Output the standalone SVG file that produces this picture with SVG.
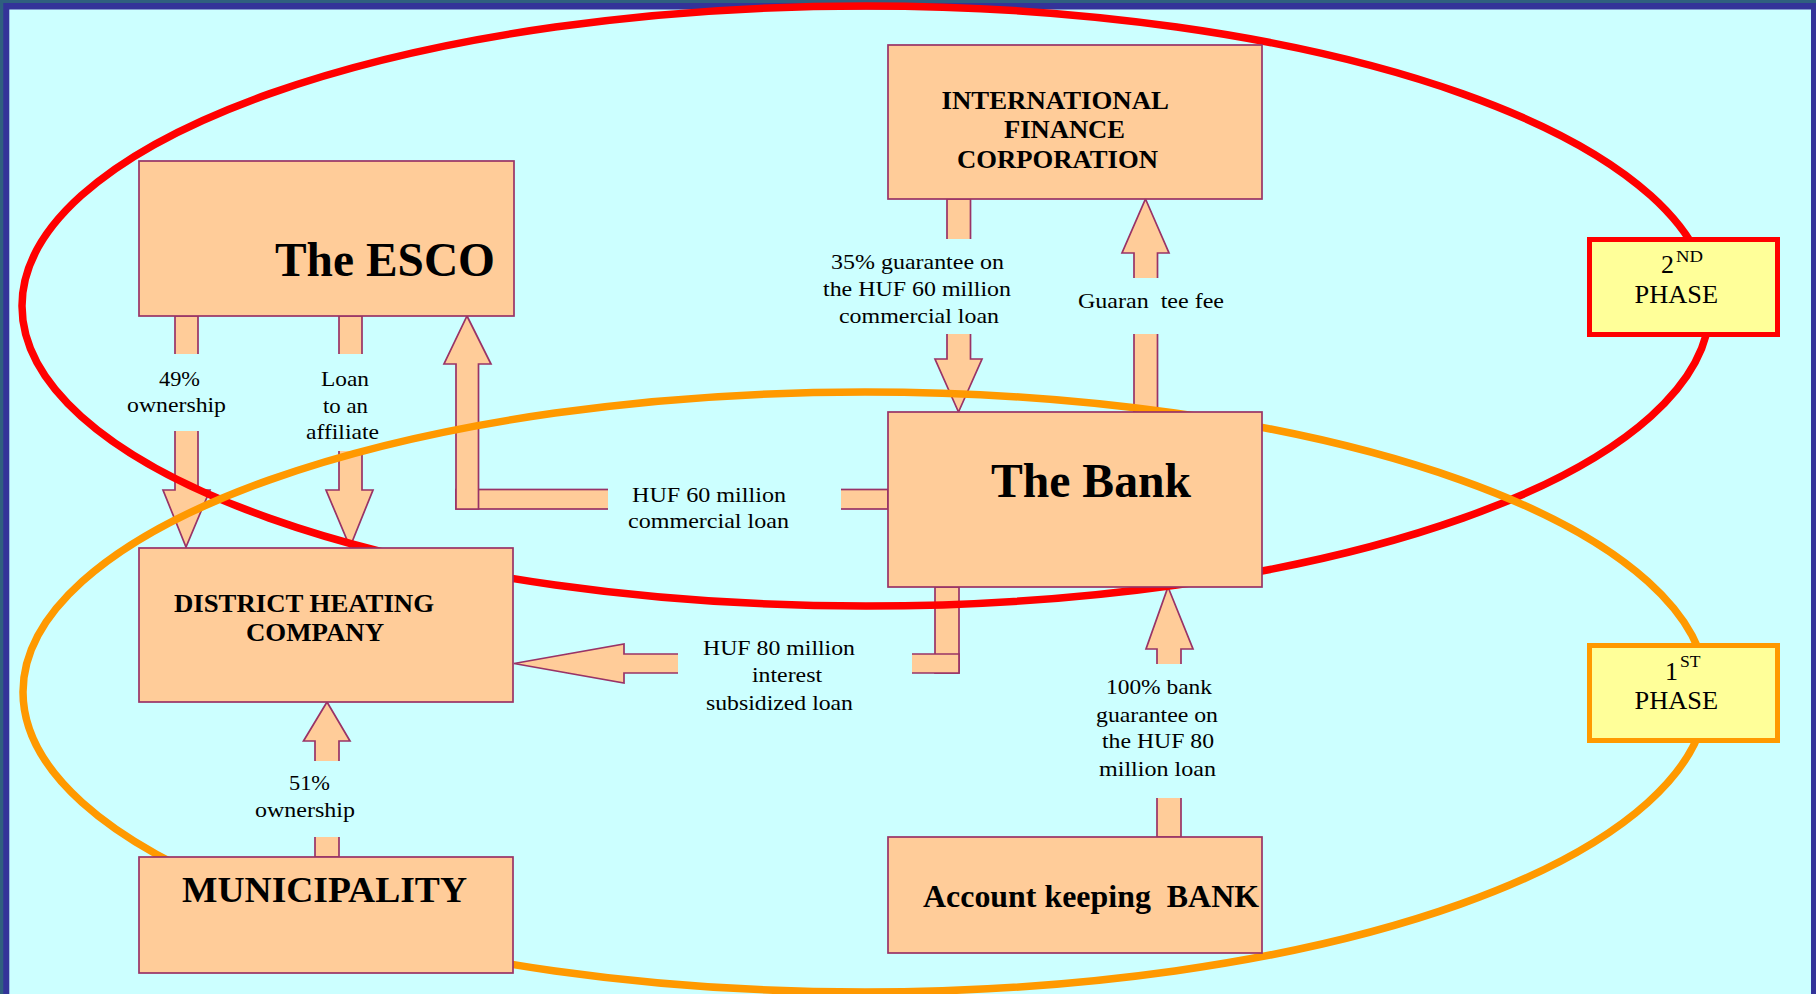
<svg xmlns="http://www.w3.org/2000/svg" width="1816" height="994" viewBox="0 0 1816 994">
<style>
.node{fill:#FFCC99;stroke:#993366;stroke-width:1.7}
.arr{fill:#FFCC99;stroke:#993366;stroke-width:1.7;stroke-linejoin:miter}
.gap{fill:#CCFFFF;stroke:none}
.lbl{font-family:"Liberation Serif","Times New Roman",serif;font-size:22px;fill:#000}
.ttl{font-family:"Liberation Serif","Times New Roman",serif;font-weight:bold;fill:#000}
.ph{font-family:"Liberation Serif","Times New Roman",serif;font-size:26px;fill:#000}
.sup{font-family:"Liberation Serif","Times New Roman",serif;font-size:17px;fill:#000}
.ring{fill:none;stroke-width:7.5}
</style>
<rect x="0" y="0" width="1816" height="994" fill="#2F5F7F"/>
<rect x="3.3" y="3" width="1812.7" height="991" fill="#333399"/>
<rect x="9.3" y="9.5" width="1801.7" height="984.5" fill="#CCFFFF"/>

<g id="connectors">
  <!-- ESCO -> DHC 49% ownership -->
  <polygon class="arr" points="175,316 198,316 198,490 210,490 186,547 163,490 175,490"/>
  <rect class="gap" x="120" y="354" width="115" height="77"/>
  <text class="lbl" x="159" y="386" textLength="41" lengthAdjust="spacingAndGlyphs">49%</text>
  <text class="lbl" x="127" y="412" textLength="99" lengthAdjust="spacingAndGlyphs">ownership</text>
  <!-- ESCO -> DHC Loan -->
  <polygon class="arr" points="339,316 362,316 362,490 373,490 350,547 326,490 339,490"/>
  <rect class="gap" x="300" y="354" width="85" height="97"/>
  <text class="lbl" x="321" y="386" textLength="48" lengthAdjust="spacingAndGlyphs">Loan</text>
  <text class="lbl" x="323" y="413" textLength="45" lengthAdjust="spacingAndGlyphs">to an</text>
  <text class="lbl" x="306" y="439" textLength="73" lengthAdjust="spacingAndGlyphs">affiliate</text>
  <!-- Bank -> ESCO HUF 60 million -->
  <rect class="arr" x="456" y="489.5" width="432" height="19.5"/>
  <polygon class="arr" points="467,316 491,364 478.5,364 478.5,509 456,509 456,364 444,364"/>
  <rect class="gap" x="608" y="480" width="233" height="58"/>
  <text class="lbl" x="632" y="502" textLength="154" lengthAdjust="spacingAndGlyphs">HUF 60 million</text>
  <text class="lbl" x="628" y="528" textLength="161" lengthAdjust="spacingAndGlyphs">commercial loan</text>
  <!-- Bank -> DHC HUF 80 million -->
  <rect class="arr" x="935" y="587" width="24" height="86"/>
  <polygon class="arr" points="514,663.5 624,644 624,654 959,654 959,673 624,673 624,683"/>
  <rect class="gap" x="678" y="632" width="234" height="88"/>
  <text class="lbl" x="703" y="655" textLength="152" lengthAdjust="spacingAndGlyphs">HUF 80 million</text>
  <text class="lbl" x="752" y="682" textLength="70" lengthAdjust="spacingAndGlyphs">interest</text>
  <text class="lbl" x="706" y="710" textLength="147" lengthAdjust="spacingAndGlyphs">subsidized loan</text>
  <!-- IFC -> Bank 35% guarantee -->
  <polygon class="arr" points="947,199 970.5,199 970.5,359 982,359 958.5,412 935,359 947,359"/>
  <rect class="gap" x="815" y="239" width="200" height="95"/>
  <text class="lbl" x="831" y="269" textLength="173" lengthAdjust="spacingAndGlyphs">35% guarantee on</text>
  <text class="lbl" x="823" y="296" textLength="188" lengthAdjust="spacingAndGlyphs">the HUF 60 million</text>
  <text class="lbl" x="839" y="323" textLength="160" lengthAdjust="spacingAndGlyphs">commercial loan</text>
  <!-- Bank -> IFC Guarantee fee -->
  <polygon class="arr" points="1145.5,199 1169,253 1157.5,253 1157.5,412 1134,412 1134,253 1122,253"/>
  <rect class="gap" x="1070" y="278" width="160" height="56"/>
  <text class="lbl" x="1078" y="308" textLength="146" lengthAdjust="spacingAndGlyphs" xml:space="preserve">Guaran  tee fee</text>
  <!-- Account keeping -> Bank 100% -->
  <polygon class="arr" points="1168,587 1193,649 1181,649 1181,837 1157,837 1157,649 1146,649"/>
  <rect class="gap" x="1090" y="664" width="135" height="134"/>
  <text class="lbl" x="1106" y="694" textLength="106" lengthAdjust="spacingAndGlyphs">100% bank</text>
  <text class="lbl" x="1096" y="722" textLength="122" lengthAdjust="spacingAndGlyphs">guarantee on</text>
  <text class="lbl" x="1102" y="748" textLength="112" lengthAdjust="spacingAndGlyphs">the HUF 80</text>
  <text class="lbl" x="1099" y="776" textLength="117" lengthAdjust="spacingAndGlyphs">million loan</text>
  <!-- Municipality -> DHC 51% -->
  <polygon class="arr" points="327,702 350,741 339,741 339,857 315,857 315,741 303.5,741"/>
  <rect class="gap" x="245" y="761" width="120" height="76"/>
  <text class="lbl" x="289" y="790" textLength="41" lengthAdjust="spacingAndGlyphs">51%</text>
  <text class="lbl" x="255" y="817" textLength="100" lengthAdjust="spacingAndGlyphs">ownership</text>
</g>

<g id="phases">
  <ellipse class="ring" cx="866" cy="306" rx="844" ry="300" stroke="#FF0000"/>
  <ellipse class="ring" cx="865" cy="692" rx="842" ry="300" stroke="#FF9900"/>
</g>

<g id="esco">
  <rect class="node" x="139" y="161" width="375" height="155"/>
  <text class="ttl" x="275" y="276" font-size="48" textLength="220" lengthAdjust="spacingAndGlyphs">The ESCO</text>
</g>
<g id="ifc">
  <rect class="node" x="888" y="45" width="374" height="154"/>
  <text class="ttl" x="941.5" y="109" font-size="26" textLength="227.5" lengthAdjust="spacingAndGlyphs">INTERNATIONAL</text>
  <text class="ttl" x="1004" y="138" font-size="26" textLength="121" lengthAdjust="spacingAndGlyphs">FINANCE</text>
  <text class="ttl" x="957" y="168" font-size="26" textLength="201" lengthAdjust="spacingAndGlyphs">CORPORATION</text>
</g>
<g id="bank">
  <rect class="node" x="888" y="412" width="374" height="175"/>
  <text class="ttl" x="991" y="497" font-size="48" textLength="200" lengthAdjust="spacingAndGlyphs">The Bank</text>
</g>
<g id="dhc">
  <rect class="node" x="139" y="548" width="374" height="154"/>
  <text class="ttl" x="174" y="612" font-size="26" textLength="260" lengthAdjust="spacingAndGlyphs">DISTRICT HEATING</text>
  <text class="ttl" x="246" y="641" font-size="26" textLength="138" lengthAdjust="spacingAndGlyphs">COMPANY</text>
</g>
<g id="municipality">
  <rect class="node" x="139" y="857" width="374" height="116"/>
  <text class="ttl" x="182" y="902" font-size="36" textLength="285" lengthAdjust="spacingAndGlyphs">MUNICIPALITY</text>
</g>
<g id="account-bank">
  <rect class="node" x="888" y="837" width="374" height="116"/>
  <text class="ttl" x="923" y="907" font-size="32" textLength="336" lengthAdjust="spacingAndGlyphs" xml:space="preserve">Account keeping  BANK</text>
</g>
<g id="phase2">
  <rect x="1589.5" y="239.5" width="188" height="95" fill="#FFFF99" stroke="#FF0000" stroke-width="5"/>
  <text class="ph" x="1661" y="273">2</text>
  <text class="sup" x="1676" y="262" textLength="27" lengthAdjust="spacingAndGlyphs">ND</text>
  <text class="ph" x="1634.5" y="303" textLength="83.5" lengthAdjust="spacingAndGlyphs">PHASE</text>
</g>
<g id="phase1">
  <rect x="1589.5" y="645.5" width="188" height="95" fill="#FFFF99" stroke="#FF9900" stroke-width="5"/>
  <text class="ph" x="1665" y="680">1</text>
  <text class="sup" x="1680" y="667" textLength="20.5" lengthAdjust="spacingAndGlyphs">ST</text>
  <text class="ph" x="1634.5" y="709" textLength="83.5" lengthAdjust="spacingAndGlyphs">PHASE</text>
</g>
</svg>
